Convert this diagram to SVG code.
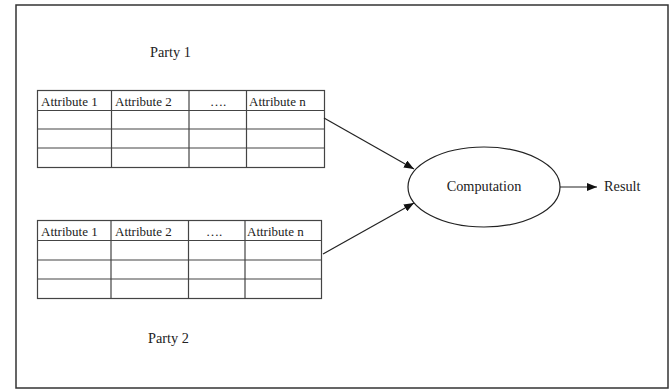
<svg xmlns="http://www.w3.org/2000/svg" width="672" height="390" viewBox="0 0 672 390">
<style>
text{font-family:"Liberation Serif","Times New Roman",serif;font-size:13px;fill:#222}
.big{font-size:14.3px}
.g{fill:none;stroke:#444;stroke-width:1.2}
.c{stroke:#222;stroke-width:1.2;fill:none}
</style>
<defs>
<marker id="ah" markerWidth="10" markerHeight="8" refX="10" refY="4" orient="auto" markerUnits="userSpaceOnUse">
<path d="M0,0 L10,4 L0,8 Z" fill="#111"/>
</marker>
</defs>
<rect x="0" y="0" width="672" height="390" fill="#fff"/>
<rect x="16" y="5" width="652" height="383" fill="none" stroke="#333" stroke-width="1.5"/>
<g id="party1">
<text class="big" x="150" y="57">Party 1</text>
<rect class="g" x="37.5" y="90.5" width="287" height="77"/>
<path class="g" d="M37.5 110.5H324.5M37.5 129H324.5M37.5 148H324.5M111.5 90.5V167.5M189 90.5V167.5M246.5 90.5V167.5"/>
<text x="41" y="105.5">Attribute 1</text>
<text x="115" y="105.5">Attribute 2</text>
<text x="210" y="105.5">….</text>
<text x="249" y="105.5">Attribute n</text>
</g>
<g id="party2">
<text class="big" x="148" y="343">Party 2</text>
<rect class="g" x="37.5" y="220.5" width="284" height="78"/>
<path class="g" d="M37.5 240.5H321.5M37.5 260H321.5M37.5 279H321.5M111 220.5V298.5M188.5 220.5V298.5M245 220.5V298.5"/>
<text x="41" y="236">Attribute 1</text>
<text x="115" y="236">Attribute 2</text>
<text x="206" y="236">….</text>
<text x="247" y="236">Attribute n</text>
</g>
<g id="computation">
<ellipse cx="484" cy="187" rx="76" ry="40" fill="none" stroke="#222" stroke-width="1.2"/>
<text class="big" x="484" y="191" text-anchor="middle">Computation</text>
</g>
<g id="result">
<text class="big" x="604" y="191">Result</text>
</g>
<g id="connectors">
<line class="c" x1="324" y1="118" x2="414" y2="169" marker-end="url(#ah)"/>
<line class="c" x1="323" y1="254" x2="414" y2="203" marker-end="url(#ah)"/>
<line class="c" x1="560" y1="187" x2="597" y2="187" marker-end="url(#ah)"/>
</g>
</svg>
